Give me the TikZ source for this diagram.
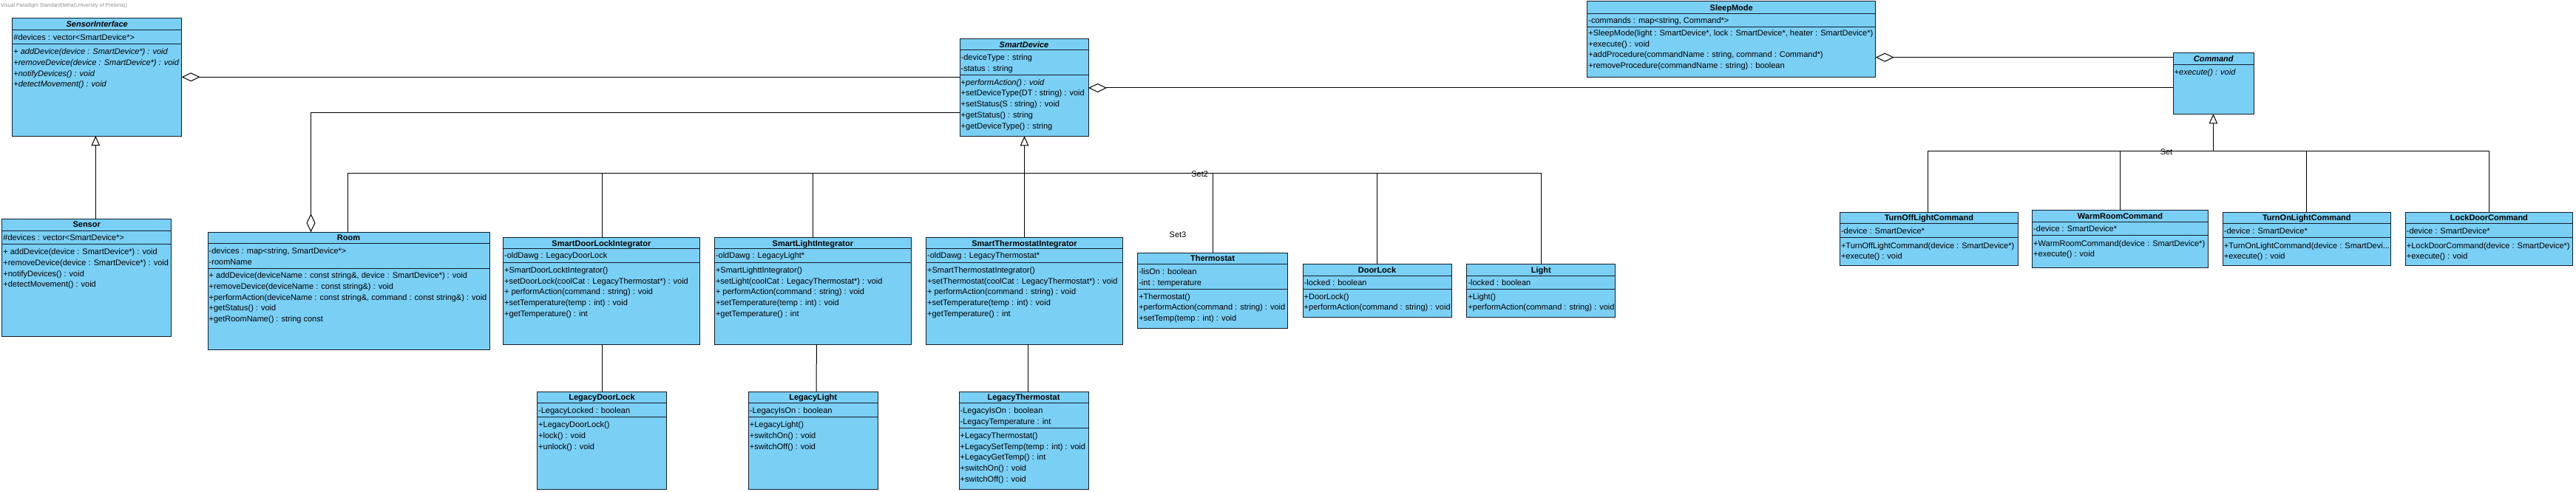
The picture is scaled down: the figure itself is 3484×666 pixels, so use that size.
\documentclass[tikz,border=0pt]{standalone}
\usepackage{fontspec}
\setmainfont{Liberation Sans}
\usetikzlibrary{arrows.meta}
\definecolor{clsfill}{RGB}{122,207,245}
\definecolor{clsborder}{RGB}{20,30,45}
\definecolor{hdrgray}{RGB}{140,140,140}
\newcommand\fs{\fontsize{11}{13}\selectfont}
\newcounter{umlt}
\newcommand\umlbox[5]{\node[cls, minimum width=#4pt, minimum height=#5pt] (#1) at (#2,#3) {};}
\newcommand\umlsep[2]{\draw[sepl] ([yshift=-#2pt]#1.north west) -- ([yshift=-#2pt]#1.north east);}
\newcommand\umltxt[3]{\stepcounter{umlt}\node[ln] (txt\theumlt) at (#1,#2) {#3};}
\newcommand\umlttl[4]{\node[ttlsty] (#1) at (#2,#3) {#4};}
\tikzset{
  cls/.style={draw=clsborder, fill=clsfill, line width=1pt, inner sep=0pt, outer sep=0pt, anchor=north west},
  sepl/.style={draw=clsborder, line width=1pt},
  ln/.style={anchor=base west, inner sep=0pt, font=\fs, yshift=-3.8pt},
  ttlsty/.style={anchor=base, inner sep=0pt, font=\fs\bfseries, yshift=-3.8pt},
  lbl/.style={anchor=base, inner sep=0pt, font=\fs, yshift=-3.8pt},
  conn/.style={draw=black, line width=1pt},
  gen/.style={conn, -{Triangle[open, length=13pt, width=11.5pt]}},
  aggr/.style={conn, {Diamond[open, length=25pt, width=12pt]}-},
}
\begin{document}
\begin{tikzpicture}[x=1pt,y=-1pt]
\fill[white] (0,0) rectangle (3484,666);
\useasboundingbox (0,0) rectangle (3484,666);

\node[anchor=base west, inner sep=0pt, font=\fontsize{7}{8}\selectfont, text=hdrgray] (hdr) at (1,9.5) {Visual Paradigm Standard(letha(University of Pretoria))};

% ---------- boxes ----------
\umlbox{si}{16.7}{25}{229}{159}
\umlbox{sn}{2.7}{296}{229}{159.7}
\umlbox{rm}{281}{314.3}{381}{159}
\umlbox{sdli}{680.4}{321.5}{266}{144.5}
\umlbox{sli}{966.3}{321.5}{266.2}{144.5}
\umlbox{sti}{1252.4}{321.5}{266.2}{144.5}
\umlbox{th}{1538.6}{342.3}{202.7}{102}
\umlbox{dl}{1762}{357.7}{201}{71.3}
\umlbox{lt}{1983.8}{357.7}{201}{71.3}
\umlbox{sd}{1298}{52.3}{174}{132}
\umlbox{sm}{2146.7}{2}{390}{102.3}
\umlbox{cmd}{2939}{71.7}{109.5}{82.6}
\umlbox{tolc}{2488.3}{287.3}{241.1}{72}
\umlbox{wrc}{2748.5}{284.3}{238}{78}
\umlbox{tonlc}{3006.2}{287.3}{227.2}{72}
\umlbox{ldc}{3253.1}{287.3}{226.5}{72}
\umlbox{ldl}{726.5}{530}{175}{132.7}
\umlbox{ll}{1012.2}{530}{175}{132.7}
\umlbox{lth}{1297}{530}{175}{132.7}

% ---------- separators ----------
\umlsep{si}{15.7}\umlsep{si}{35}
\umlsep{sn}{16}\umlsep{sn}{34}
\umlsep{rm}{15.2}\umlsep{rm}{48.7}
\umlsep{sdli}{15.2}\umlsep{sdli}{34.2}
\umlsep{sli}{15.2}\umlsep{sli}{34.2}
\umlsep{sti}{15.2}\umlsep{sti}{34.2}
\umlsep{th}{15.4}\umlsep{th}{49.4}
\umlsep{dl}{15.6}\umlsep{dl}{34}
\umlsep{lt}{15.6}\umlsep{lt}{34}
\umlsep{sd}{15.4}\umlsep{sd}{49.4}
\umlsep{sm}{16.3}\umlsep{sm}{34.7}
\umlsep{cmd}{16}
\umlsep{tolc}{15.4}\umlsep{tolc}{33.7}
\umlsep{wrc}{15.7}\umlsep{wrc}{34}
\umlsep{tonlc}{15.4}\umlsep{tonlc}{33.7}
\umlsep{ldc}{15.4}\umlsep{ldc}{33.7}
\umlsep{ldl}{15.7}\umlsep{ldl}{34.3}
\umlsep{ll}{15.7}\umlsep{ll}{34.3}
\umlsep{lth}{15.7}\umlsep{lth}{49.3}

% ---------- SensorInterface ----------
\umlttl{si-t}{131.2}{33}{\itshape SensorInterface}
\umltxt{18.2}{50.5}{\#devices : vector<SmartDevice*>}
\umltxt{18.2}{70}{\itshape + addDevice(device : SmartDevice*) : void}
\umltxt{18.2}{84.7}{\itshape +removeDevice(device : SmartDevice*) : void}
\umltxt{18.2}{99.4}{\itshape +notifyDevices() : void}
\umltxt{18.2}{114.1}{\itshape +detectMovement() : void}

% ---------- Sensor ----------
\umlttl{sn-t}{117.2}{304}{Sensor}
\umltxt{4.2}{321.5}{\#devices : vector<SmartDevice*>}
\umltxt{4.2}{341}{+ addDevice(device : SmartDevice*) : void}
\umltxt{4.2}{355.7}{+removeDevice(device : SmartDevice*) : void}
\umltxt{4.2}{370.4}{+notifyDevices() : void}
\umltxt{4.2}{385.1}{+detectMovement() : void}

% ---------- Room ----------
\umlttl{rm-t}{471.5}{322}{Room}
\umltxt{282.5}{339.8}{-devices : map<string, SmartDevice*>}
\umltxt{282.5}{354.5}{-roomName}
\umltxt{282.5}{373}{+ addDevice(deviceName : const string\&, device : SmartDevice*) : void}
\umltxt{282.5}{387.7}{+removeDevice(deviceName : const string\&) : void}
\umltxt{282.5}{402.4}{+performAction(deviceName : const string\&, command : const string\&) : void}
\umltxt{282.5}{417.1}{+getStatus() : void}
\umltxt{282.5}{431.8}{+getRoomName() : string const}

% ---------- SmartDoorLockIntegrator ----------
\umlttl{sdli-t}{813.4}{329.2}{SmartDoorLockIntegrator}
\umltxt{681.9}{346}{-oldDawg : LegacyDoorLock}
\umltxt{681.9}{365.3}{+SmartDoorLocktIntegrator()}
\umltxt{681.9}{380.2}{+setDoorLock(coolCat : LegacyThermostat*) : void}
\umltxt{681.9}{395.1}{+ performAction(command : string) : void}
\umltxt{681.9}{410}{+setTemperature(temp : int) : void}
\umltxt{681.9}{424.9}{+getTemperature() : int}

% ---------- SmartLightIntegrator ----------
\umlttl{sli-t}{1099.4}{329.2}{SmartLightIntegrator}
\umltxt{967.8}{346}{-oldDawg : LegacyLight*}
\umltxt{967.8}{365.3}{+SmartLighttIntegrator()}
\umltxt{967.8}{380.2}{+setLight(coolCat : LegacyThermostat*) : void}
\umltxt{967.8}{395.1}{+ performAction(command : string) : void}
\umltxt{967.8}{410}{+setTemperature(temp : int) : void}
\umltxt{967.8}{424.9}{+getTemperature() : int}

% ---------- SmartThermostatIntegrator ----------
\umlttl{sti-t}{1385.5}{329.2}{SmartThermostatIntegrator}
\umltxt{1253.9}{346}{-oldDawg : LegacyThermostat*}
\umltxt{1253.9}{365.3}{+SmartThermostatIntegrator()}
\umltxt{1253.9}{380.2}{+setThermostat(coolCat : LegacyThermostat*) : void}
\umltxt{1253.9}{395.1}{+ performAction(command : string) : void}
\umltxt{1253.9}{410}{+setTemperature(temp : int) : void}
\umltxt{1253.9}{424.9}{+getTemperature() : int}

% ---------- Thermostat ----------
\umlttl{th-t}{1640}{350}{Thermostat}
\umltxt{1540.1}{367.5}{-lisOn : boolean}
\umltxt{1540.1}{382.2}{-int : temperature}
\umltxt{1540.1}{401.3}{+Thermostat()}
\umltxt{1540.1}{416}{+performAction(command : string) : void}
\umltxt{1540.1}{430.7}{+setTemp(temp : int) : void}

% ---------- DoorLock ----------
\umlttl{dl-t}{1862.5}{365.5}{DoorLock}
\umltxt{1763.5}{382.5}{-locked : boolean}
\umltxt{1763.5}{401.3}{+DoorLock()}
\umltxt{1763.5}{416}{+performAction(command : string) : void}

% ---------- Light ----------
\umlttl{lt-t}{2084.3}{365.5}{Light}
\umltxt{1985.3}{382.5}{-locked : boolean}
\umltxt{1985.3}{401.3}{+Light()}
\umltxt{1985.3}{416}{+performAction(command : string) : void}

% ---------- SmartDevice ----------
\umlttl{sd-t}{1385}{60.3}{\itshape SmartDevice}
\umltxt{1299.5}{77.7}{-deviceType : string}
\umltxt{1299.5}{92.4}{-status : string}
\umltxt{1299.5}{111.3}{+\itshape performAction() : void}
\umltxt{1299.5}{126.1}{+setDeviceType(DT : string) : void}
\umltxt{1299.5}{140.9}{+setStatus(S : string) : void}
\umltxt{1299.5}{155.7}{+getStatus() : string}
\umltxt{1299.5}{170.5}{+getDeviceType() : string}

% ---------- SleepMode ----------
\umlttl{sm-t}{2341.7}{10.3}{SleepMode}
\umltxt{2148.2}{27.8}{-commands : map<string, Command*>}
\umltxt{2148.2}{44.5}{+SleepMode(light : SmartDevice*, lock : SmartDevice*, heater : SmartDevice*)}
\umltxt{2148.2}{59.3}{+execute() : void}
\umltxt{2148.2}{74.1}{+addProcedure(commandName : string, command : Command*)}
\umltxt{2148.2}{88.9}{+removeProcedure(commandName : string) : boolean}

% ---------- Command ----------
\umlttl{cmd-t}{2993.75}{79.7}{\itshape Command}
\umltxt{2940.5}{97.7}{\itshape +execute() : void}

% ---------- commands ----------
\umlttl{tolc-t}{2608.85}{295}{TurnOffLightCommand}
\umltxt{2489.8}{312.5}{-device : SmartDevice*}
\umltxt{2489.8}{332.5}{+TurnOffLightCommand(device : SmartDevice*)}
\umltxt{2489.8}{346.7}{+execute() : void}

\umlttl{wrc-t}{2867.5}{292.2}{WarmRoomCommand}
\umltxt{2750}{309.3}{-device : SmartDevice*}
\umltxt{2750}{329.3}{+WarmRoomCommand(device : SmartDevice*)}
\umltxt{2750}{343.3}{+execute() : void}

\umlttl{tonlc-t}{3119.8}{295}{TurnOnLightCommand}
\umltxt{3007.7}{312.5}{-device : SmartDevice*}
\umltxt{3007.7}{332.5}{+TurnOnLightCommand(device : SmartDevi...}
\umltxt{3007.7}{346.7}{+execute() : void}

\umlttl{ldc-t}{3366.35}{295}{LockDoorCommand}
\umltxt{3254.6}{312.5}{-device : SmartDevice*}
\umltxt{3254.6}{332.5}{+LockDoorCommand(device : SmartDevice*)}
\umltxt{3254.6}{346.7}{+execute() : void}

% ---------- legacy ----------
\umlttl{ldl-t}{814}{537.9}{LegacyDoorLock}
\umltxt{728}{555.5}{-LegacyLocked : boolean}
\umltxt{728}{575}{+LegacyDoorLock()}
\umltxt{728}{589.7}{+lock() : void}
\umltxt{728}{604.4}{+unlock() : void}

\umlttl{ll-t}{1099.7}{537.9}{LegacyLight}
\umltxt{1013.7}{555.5}{-LegacyIsOn : boolean}
\umltxt{1013.7}{575}{+LegacyLight()}
\umltxt{1013.7}{589.7}{+switchOn() : void}
\umltxt{1013.7}{604.4}{+switchOff() : void}

\umlttl{lth-t}{1384.5}{537.9}{LegacyThermostat}
\umltxt{1298.5}{555.5}{-LegacyIsOn : boolean}
\umltxt{1298.5}{570.2}{-LegacyTemperature : int}
\umltxt{1298.5}{589.5}{+LegacyThermostat()}
\umltxt{1298.5}{604.2}{+LegacySetTemp(temp : int) : void}
\umltxt{1298.5}{618.9}{+LegacyGetTemp() : int}
\umltxt{1298.5}{633.6}{+switchOn() : void}
\umltxt{1298.5}{648.3}{+switchOff() : void}

% ---------- connectors ----------
\coordinate (j2) at (1385.5,234);
\coordinate (j1) at (2993.4,204);

% aggregations
\draw[aggr] ([yshift=-79.3pt]si.north east) -- ([yshift=-52pt]sd.north west);
\draw[aggr] ([xshift=139.5pt]rm.north west) |- ([yshift=-100pt]sd.north west);
\draw[aggr] ([yshift=-66.7pt]sd.north east) -- ([yshift=-47.3pt]cmd.north west);
\draw[aggr] ([yshift=-75.7pt]sm.north east) -- ([yshift=-6pt]cmd.north west);

% generalization Sensor -> SensorInterface
\draw[gen] ([xshift=126.6pt]sn.north west) -- ([xshift=112.6pt]si.south west);

% SmartDevice tree
\draw[gen] (j2) -- ([xshift=87.5pt]sd.south west);
\draw[conn] ([xshift=133.1pt]sti.north west) -- (j2);
\draw[conn] ([xshift=189pt]rm.north west) |- (j2);
\draw[conn] ([xshift=133.6pt]sdli.north west) |- (j2);
\draw[conn] ([xshift=133.5pt]sli.north west) |- (j2);
\draw[conn] ([xshift=101.9pt]th.north west) |- (j2);
\draw[conn] ([xshift=100.8pt]dl.north west) |- (j2);
\draw[conn] ([xshift=100.8pt]lt.north west) |- (j2);
\node[lbl] (set2) at (1622.6,236) {Set2};
\node[lbl] (set3) at (1593,318) {Set3};

% Command tree
\draw[gen] (j1) -- ([xshift=54.4pt]cmd.south west);
\draw[conn] ([xshift=119.4pt]tolc.north west) |- (j1);
\draw[conn] ([xshift=118.5pt]wrc.north west) |- (j1);
\draw[conn] ([xshift=113.1pt]tonlc.north west) |- (j1);
\draw[conn] ([xshift=113.1pt]ldc.north west) |- (j1);
\node[lbl] (set1) at (2930,205.7) {Set};

% integrator -> legacy associations
\draw[conn] ([xshift=133.6pt]sdli.south west) -- ([xshift=87.5pt]ldl.north west);
\draw[conn] ([xshift=138.1pt]sli.south west) -- ([xshift=91.8pt]ll.north west);
\draw[conn] ([xshift=138.1pt]sti.south west) -- ([xshift=93.5pt]lth.north west);
\end{tikzpicture}
\end{document}
